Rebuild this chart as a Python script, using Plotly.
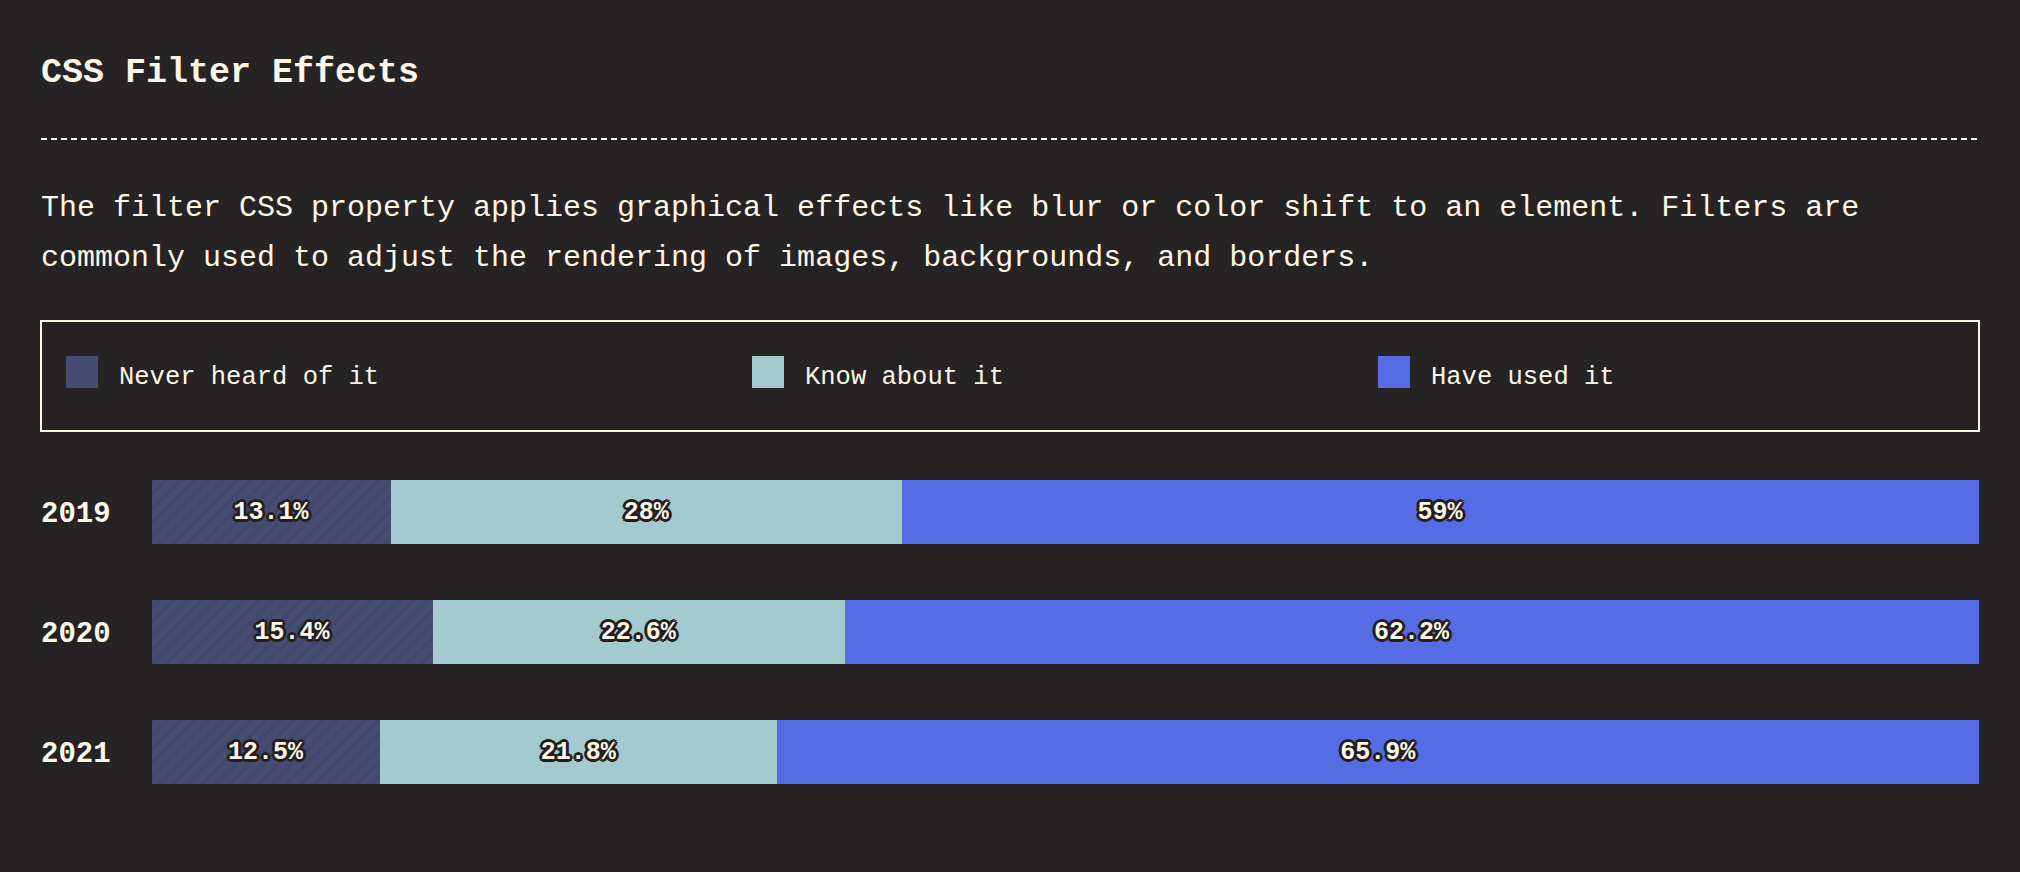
import plotly.graph_objects as go

W, H = 2020, 872

years = [2019, 2020, 2021]
series_names = ["Never heard of it", "Know about it", "Have used it"]
never_heard = [13.1, 15.4, 12.5]
know_about = [28, 22.6, 21.8]
have_used = [59, 62.2, 65.9]
series_values = [never_heard, know_about, have_used]

title_text = "CSS Filter Effects"
desc_lines = [
    "The filter CSS property applies graphical effects like blur or color shift to an element. Filters are",
    "commonly used to adjust the rendering of images, backgrounds, and borders.",
]

BG = "#262325"
CREAM = "#fdf6e6"
OUTLINE = "#231f21"
colors = ["#464c72", "#a3cbcf", "#566ce4"]
stripe = "#3d4366"
FONT = "Liberation Mono"

def px_x(x):
    return x / W

def px_y(y):
    return 1 - y / H

shadow = ", ".join(
    f"{dx}px {dy}px 0 {OUTLINE}"
    for dx, dy in [(3, 0), (-3, 0), (0, 3), (0, -3), (2, 2), (-2, -2), (2, -2), (-2, 2)]
)

fig = go.Figure()
for i, (name, vals) in enumerate(zip(series_names, series_values)):
    marker = dict(color=colors[i], line=dict(width=0))
    if i == 0:
        marker["pattern"] = dict(shape="/", bgcolor=colors[i], fgcolor=stripe,
                                 size=10, solidity=0.35, fillmode="overlay")
    fig.add_trace(go.Bar(
        y=years, x=vals, name=name, orientation="h",
        marker=marker,
        text=[f"{v:g}%" for v in vals],
        textposition="inside", insidetextanchor="middle", textangle=0,
        constraintext="none",
        textfont=dict(family=FONT, size=25, color=CREAM, weight="bold", shadow=shadow),
        insidetextfont=dict(family=FONT, size=25, color=CREAM, weight="bold", shadow=shadow),
        showlegend=False, hoverinfo="skip",
    ))

# axis geometry
bar_left, bar_right = 152, 1979
row_top, row_bottom = 452, 812

fig.update_layout(
    width=W, height=H,
    paper_bgcolor=BG, plot_bgcolor=BG,
    margin=dict(l=0, r=0, t=0, b=0),
    barmode="stack", barnorm="percent", bargap=0.4667,
    xaxis=dict(domain=[px_x(bar_left), px_x(bar_right)], range=[0, 100],
               visible=False, fixedrange=True),
    yaxis=dict(domain=[px_y(row_bottom), px_y(row_top)], type="linear",
               range=[years[-1] + 0.5, years[0] - 0.5],
               visible=False, fixedrange=True),
    font=dict(family=FONT, color=CREAM),
)

annotations = []
# title
annotations.append(dict(text=title_text, x=px_x(39), y=px_y(72.5), xref="paper", yref="paper",
                        xanchor="left", yanchor="middle", showarrow=False,
                        font=dict(family=FONT, size=35, color=CREAM, weight="bold")))
# description lines
for line, yc in zip(desc_lines, [207.5, 257.5]):
    annotations.append(dict(text=line, x=px_x(39), y=px_y(yc), xref="paper", yref="paper",
                            xanchor="left", yanchor="middle", showarrow=False,
                            font=dict(family=FONT, size=30, color=CREAM)))
# year labels
for yr in years:
    annotations.append(dict(text=str(yr), x=px_x(39), y=yr, xref="paper", yref="y",
                            xanchor="left", yanchor="middle", yshift=-2.5, showarrow=False,
                            font=dict(family=FONT, size=29, color=CREAM, weight="bold")))

shapes = []
# dashed separator
shapes.append(dict(type="line", xref="paper", yref="paper",
                   x0=px_x(41), x1=px_x(1979), y0=px_y(139), y1=px_y(139),
                   line=dict(color=CREAM, width=2, dash="6px,4px")))
# legend box
shapes.append(dict(type="rect", xref="paper", yref="paper",
                   x0=px_x(41), x1=px_x(1979), y0=px_y(321), y1=px_y(431),
                   line=dict(color=CREAM, width=2), fillcolor="rgba(0,0,0,0)"))
# legend entries
legend_x = [66, 752, 1378]
for name, col, lx in zip(series_names, colors, legend_x):
    shapes.append(dict(type="rect", xref="paper", yref="paper",
                       x0=px_x(lx), x1=px_x(lx + 32), y0=px_y(356), y1=px_y(388),
                       line=dict(width=0), fillcolor=col))
    annotations.append(dict(text=name, x=px_x(lx + 51), y=px_y(377.5), xref="paper", yref="paper",
                            xanchor="left", yanchor="middle", showarrow=False,
                            font=dict(family=FONT, size=25.5, color=CREAM)))

fig.update_layout(annotations=annotations, shapes=shapes)

fig.write_html("out.html", config={"displayModeBar": False})
